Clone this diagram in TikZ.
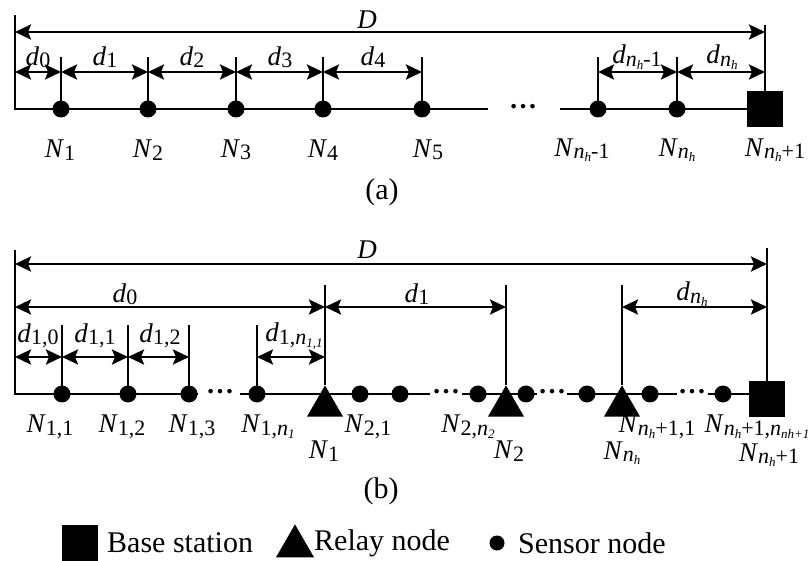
\documentclass[tikz,border=0pt]{standalone}
\usepackage{fontspec}
\setmainfont{Liberation Serif}
\usepackage{tikz}
\usetikzlibrary{arrows.meta,shapes.geometric}
\newcommand{\lo}[1]{\raisebox{-0.2ex}{\fontsize{22}{22}\selectfont #1}}
\newcommand{\llo}[1]{\raisebox{-0.3ex}{\fontsize{13}{13}\selectfont\itshape #1}}
\tikzset{
  lc line/.style={line width=2.6pt},
  lc dim/.style={
    {Stealth[length=16pt,width=15pt,inset=3pt]}-{Stealth[length=16pt,width=15pt,inset=3pt]},
    line width=2.6pt,
  },
  lc sensor/.style={circle, fill=black, inner sep=0pt, minimum size=17pt},
  lc relay/.style={
    regular polygon,
    regular polygon sides=3,
    fill=black,
    inner sep=0pt,
    minimum size=41.6pt,
  },
  lc station/.style={rectangle, fill=black, inner sep=0pt, minimum size=36pt},
  lc lab/.style={font=\fontsize{27}{27}\selectfont, inner sep=0pt},
  lc dots/.style={font=\fontsize{28}{28}\selectfont\bfseries, inner sep=0pt},
  lc cap/.style={font=\fontsize{30}{30}\selectfont, inner sep=0pt},
  lc legend/.style={font=\fontsize{30}{30}\selectfont, inner sep=0pt},
}
\begin{document}
\begin{tikzpicture}[x=1pt,y=-1pt]
  \useasboundingbox (0,0) rectangle (809,561);

  % (a)
  \coordinate (aTL) at (15,15);
  \coordinate (aTR) at (765,25);
  \coordinate (yDa) at (0,32);
  \coordinate (yta) at (0,57);
  \coordinate (yda) at (0,72);
  \coordinate (ga1) at (488,109);
  \coordinate (ga2) at (560,109);
  \node[lc station] (bsa) at (765,109) {};
  \foreach \x [count=\i] in {61,148,236,323,422,598,677}
    \node[lc sensor] (sa\i) at (\x,109) {};
  \foreach \i in {1,...,7}
    \draw[lc line] (sa\i.center) -- (sa\i |- yta);
  \draw[lc line] (aTL) -- (aTL |- sa1) -- (ga1);
  \node[lc dots] (dta) at (523,107) {\ldots};
  \draw[lc line] (ga2) -- (bsa.center);
  \draw[lc line] (aTR) -- (bsa.center);
  \draw[lc dim] (aTL |- yDa) -- (aTR |- yDa);
  \draw[lc dim] (aTL |- yda) -- (sa1 |- yda);
  \foreach \i/\j in {1/2,2/3,3/4,4/5,6/7}
    \draw[lc dim] (sa\i |- yda) -- (sa\j |- yda);
  \draw[lc dim] (sa7 |- yda) -- (aTR |- yda);
  \node[lc lab] (Da) at (367,20) {\textit{D}};
  \foreach \x/\s [count=\i] in {38/0,105/1,192/2,280/3,373/4}
    \node[lc lab] (lda\i) at (\x,57) {\textit{d}\lo{\s}};
  \node[lc lab] (lda6) at (637,57) {\textit{d}\lo{\textit{n}\llo{h}-1}};
  \node[lc lab] (lda7) at (722,57) {\textit{d}\lo{\textit{n}\llo{h}}};
  \foreach \x/\s [count=\i] in {60/1,148/2,236/3,323/4,428/5}
    \node[lc lab] (lNa\i) at (\x,150) {\textit{N}\lo{\s}};
  \node[lc lab] (lNa6) at (582,150) {\textit{N}\lo{\textit{n}\llo{h}-1}};
  \node[lc lab] (lNa7) at (677,150) {\textit{N}\lo{\textit{n}\llo{h}}};
  \node[lc lab] (lNa8) at (775,150) {\textit{N}\lo{\textit{n}\llo{h}+1}};
  \node[lc cap] (capa) at (382,192) {(a)};

  % (b)
  \coordinate (bTL) at (15,250);
  \coordinate (bTR) at (767,248);
  \coordinate (yDb) at (0,264);
  \coordinate (yrb) at (0,285);
  \coordinate (ydb) at (0,307);
  \coordinate (ytb) at (0,325);
  \coordinate (yeb) at (0,357);
  \node[lc station] (bsb) at (767,399) {};
  \foreach \x [count=\i] in {325,506,622}
    \node[lc relay, anchor=corner 1] (rb\i) at (\x,385) {};
  \foreach \x [count=\i] in {62,128,189,257,360,400,478,526,587,650,723}
    \node[lc sensor] (sb\i) at (\x,394) {};
  \foreach \i in {1,...,4}
    \draw[lc line] (sb\i.center) -- (sb\i |- ytb);
  \foreach \i in {1,2,3}
    \draw[lc line] (rb\i.corner 1) -- (rb\i.corner 1 |- yrb);
  \foreach \a/\b/\m in {198/240/220,430/462/446,537/567/552,677/708/692} {
    \coordinate (gb\a) at (\a,394);
    \coordinate (gc\b) at (\b,394);
    \node[lc dots] (dtb\m) at (\m,392) {\ldots};
  }
  \draw[lc line] (bTL) -- (bTL |- sb1) -- (gb198);
  \draw[lc line] (gc240) -- (gb430);
  \draw[lc line] (gc462) -- (gb537);
  \draw[lc line] (gc567) -- (gb677);
  \draw[lc line] (gc708) -- (bsb.west |- gc708);
  \draw[lc line] (bTR) -- (bsb.north);
  \draw[lc dim] (bTL |- yDb) -- (bTR |- yDb);
  \draw[lc dim] (bTL |- ydb) -- (rb1.corner 1 |- ydb);
  \draw[lc dim] (rb1.corner 1 |- ydb) -- (rb2.corner 1 |- ydb);
  \draw[lc dim] (rb3.corner 1 |- ydb) -- (bTR |- ydb);
  \draw[lc dim] (bTL |- yeb) -- (sb1 |- yeb);
  \draw[lc dim] (sb1 |- yeb) -- (sb2 |- yeb);
  \draw[lc dim] (sb2 |- yeb) -- (sb3 |- yeb);
  \draw[lc dim] (sb4 |- yeb) -- (rb1.corner 1 |- yeb);
  \node[lc lab] (Db) at (367,250) {\textit{D}};
  \node[lc lab] (ldb0) at (125,294) {\textit{d}\lo{0}};
  \node[lc lab] (ldb1) at (417,294) {\textit{d}\lo{1}};
  \node[lc lab] (ldb2) at (692,294) {\textit{d}\lo{\textit{n}\llo{h}}};
  \foreach \x/\s [count=\i] in {38/0,95/1,160/2}
    \node[lc lab] (leb\i) at (\x,336) {\textit{d}\lo{1,\s}};
  \node[lc lab] (leb4) at (294,336) {\textit{d}\lo{1,\textit{n}\llo{1,1}}};
  \foreach \x/\s [count=\i] in {50/1,122/2,192/3}
    \node[lc lab] (lNb\i) at (\x,427) {\textit{N}\lo{1,\s}};
  \node[lc lab] (lNb4) at (268,427) {\textit{N}\lo{1,\textit{n}\llo{1}}};
  \node[lc lab] (lNb5) at (368,427) {\textit{N}\lo{2,1}};
  \node[lc lab] (lNb6) at (468,427) {\textit{N}\lo{2,\textit{n}\llo{2}}};
  \node[lc lab] (lNb7) at (657,427) {\textit{N}\lo{\textit{n}\llo{h}+1,1}};
  \node[lc lab] (lNb8) at (757,427) {\textit{N}\lo{\textit{n}\llo{h}+1,\textit{n}\llo{nh+1}}};
  \node[lc lab] (lRb1) at (324,451) {\textit{N}\lo{1}};
  \node[lc lab] (lRb2) at (509,451) {\textit{N}\lo{2}};
  \node[lc lab] (lRb3) at (622,453) {\textit{N}\lo{\textit{n}\llo{h}}};
  \node[lc lab] (lRb4) at (769,455) {\textit{N}\lo{\textit{n}\llo{h}+1}};
  \node[lc cap] (capb) at (381,491) {(b)};

  % legend
  \node[lc station] (lgS) at (80,543) {};
  \node[lc legend, anchor=west] (lgSt) at (107,543) {Base station};
  \node[lc relay, anchor=corner 1, minimum size=44pt] (lgR) at (295,524) {};
  \node[lc legend, anchor=west] (lgRt) at (314,543) {Relay node};
  \node[lc sensor, minimum size=15pt] (lgD) at (497,543) {};
  \node[lc legend, anchor=west] (lgDt) at (518,543) {Sensor node};
\end{tikzpicture}
\end{document}
